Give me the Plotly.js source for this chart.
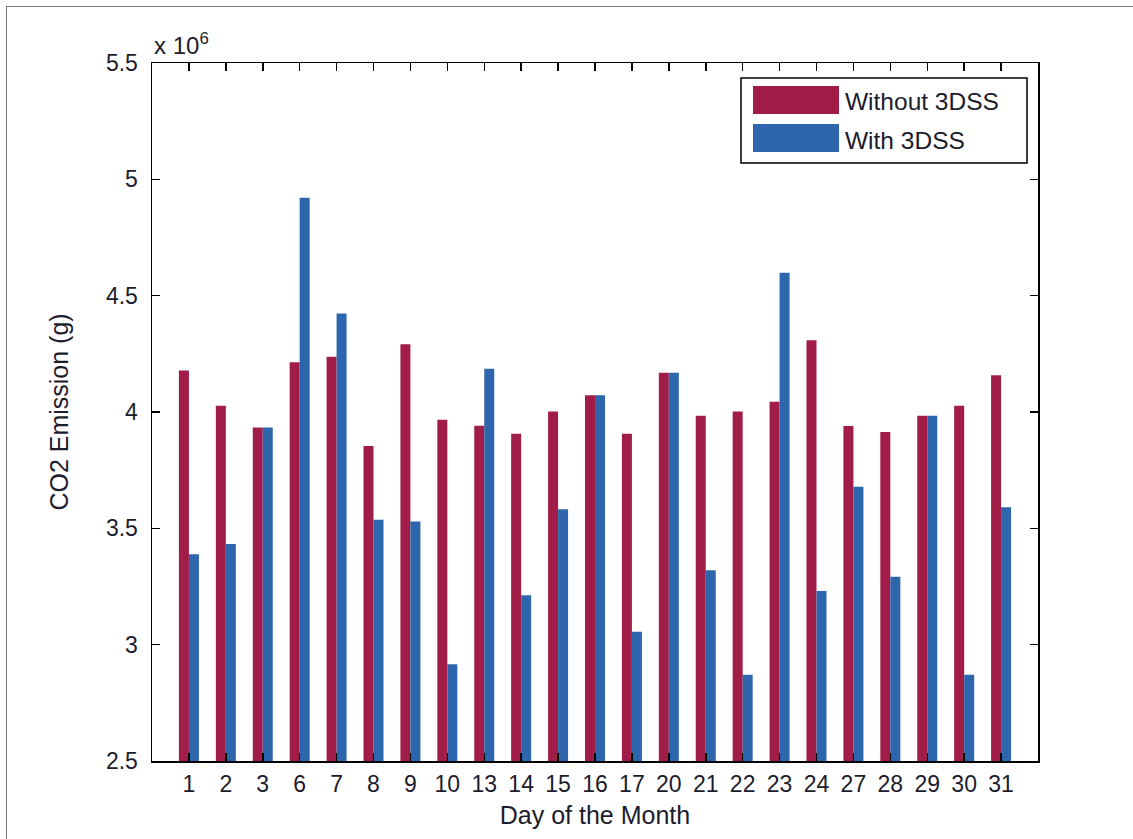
<!DOCTYPE html>
<html>
<head>
<meta charset="utf-8">
<script src="https://cdn.plot.ly/plotly-3.0.1.min.js"></script>
<style>
  html, body { margin: 0; padding: 0; background: #fff; }
  #wrap { position: relative; width: 1133px; height: 839px; overflow: hidden; }
  #chart { width: 1133px; height: 839px; }
  #frameL { position: absolute; left: 6px; top: 6px; width: 0; height: 840px; border-left: 1px solid #777; }
  #frameT { position: absolute; left: 6px; top: 6px; width: 1130px; height: 0; border-top: 1px solid #777; }
</style>
</head>
<body>
<div id="wrap">
  <div id="chart"></div>
  <div id="frameL"></div>
  <div id="frameT"></div>
</div>
<script>
// Day labels (categories)
const days = ["1","2","3","6","7","8","9","10","13","14","15","16","17","20","21","22","23","24","27","28","29","30","31"];
// CO2 emission, in units of 10^6 g
const withoutDSS = [4.178,4.027,3.933,4.214,4.238,3.854,4.291,3.967,3.941,3.906,4.002,4.072,3.906,4.169,3.984,4.002,4.044,4.308,3.940,3.914,3.984,4.027,4.158];
const withDSS    = [3.389,3.433,3.933,4.921,4.423,3.537,3.529,2.916,4.186,3.212,3.582,4.072,3.056,4.169,3.320,2.871,4.598,3.231,3.679,3.292,3.984,2.871,3.591];
const seriesNames = ["Without 3DSS", "With 3DSS"];
const yTickVals = [2.5, 3, 3.5, 4, 4.5, 5, 5.5];
const yTickText = ["2.5", "3", "3.5", "4", "4.5", "5", "5.5"];

const RED = "#A21C48";
const BLUE = "#2E66AE";
const FONT = "Liberation Sans, Arial, sans-serif";
const TXT = "#1c1c2c";

const traces = [
  { type: "bar", x: days, y: withoutDSS, name: seriesNames[0], marker: { color: RED, line: { width: 0 } } },
  { type: "bar", x: days, y: withDSS, name: seriesNames[1], marker: { color: BLUE, line: { width: 0 } } }
];

// plot area in pixels: left 152, right 1038, top 63, bottom 761
const L = 152, R = 1038, T = 63, B = 761;
const px = v => (v - L) / (R - L);
const py = v => (B - v) / (B - T);

const layout = {
  width: 1133, height: 839,
  margin: { l: L, r: 1133 - R, t: T, b: 839 - B, pad: 0 },
  paper_bgcolor: "#ffffff", plot_bgcolor: "#ffffff",
  font: { family: FONT, size: 23, color: TXT },
  barmode: "group", bargap: 0.458, bargroupgap: 0,
  showlegend: false,
  xaxis: {
    type: "category", range: [-1, 23],
    showgrid: false, zeroline: false,
    showline: true, linecolor: "#000", linewidth: 1.5, mirror: "ticks",
    ticks: "inside", ticklen: 8, tickcolor: "#000", tickwidth: 1.5,
    ticklabelstandoff: 2,
    tickfont: { family: FONT, size: 23, color: TXT },
    title: { text: "Day of the Month", font: { family: FONT, size: 25, color: TXT }, standoff: 10 }
  },
  yaxis: {
    range: [2.5, 5.5], tickvals: yTickVals, ticktext: yTickText,
    showgrid: false, zeroline: false,
    showline: true, linecolor: "#000", linewidth: 1.5, mirror: "ticks",
    ticks: "inside", ticklen: 8, tickcolor: "#000", tickwidth: 1.5,
    ticklabelstandoff: 8,
    tickfont: { family: FONT, size: 23, color: TXT },
    title: { text: "CO2 Emission (g)", font: { family: FONT, size: 25, color: TXT }, standoff: 30 }
  },
  shapes: [
    { type: "rect", xref: "paper", yref: "paper", x0: px(741), x1: px(1027), y0: py(163), y1: py(78),
      line: { color: "#000", width: 1.5 }, fillcolor: "#fff", layer: "above" },
    { type: "rect", xref: "paper", yref: "paper", x0: px(753), x1: px(839), y0: py(114), y1: py(86),
      line: { width: 0 }, fillcolor: RED, layer: "above" },
    { type: "rect", xref: "paper", yref: "paper", x0: px(753), x1: px(839), y0: py(152), y1: py(124),
      line: { width: 0 }, fillcolor: BLUE, layer: "above" }
  ],
  annotations: [
    { xref: "paper", yref: "paper", x: px(843), y: py(101), xanchor: "left", yanchor: "middle",
      text: seriesNames[0], showarrow: false, font: { family: FONT, size: 24.5, color: TXT } },
    { xref: "paper", yref: "paper", x: px(843), y: py(140), xanchor: "left", yanchor: "middle",
      text: seriesNames[1], showarrow: false, font: { family: FONT, size: 24.5, color: TXT } },
    { xref: "paper", yref: "paper", x: 0, y: 1, xanchor: "left", yanchor: "bottom", yshift: 2,
      text: "x 10<sup>6</sup>", showarrow: false, font: { family: FONT, size: 24, color: TXT } }
  ]
};

Plotly.newPlot("chart", traces, layout, { displayModeBar: false, staticPlot: true });
</script>
</body>
</html>
